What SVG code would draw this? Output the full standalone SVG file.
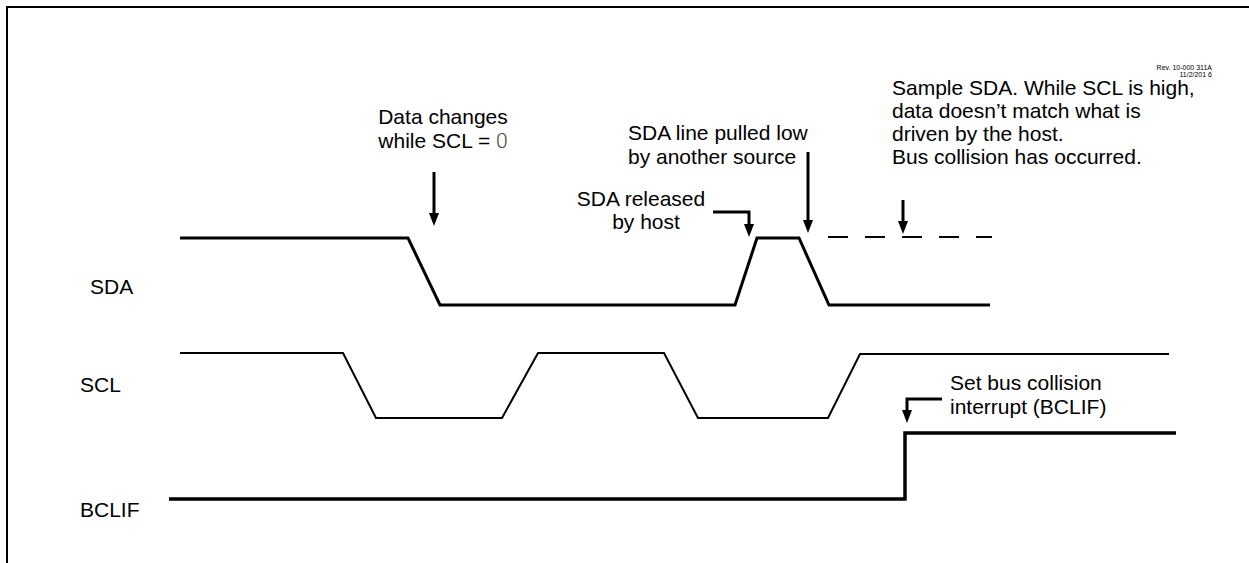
<svg xmlns="http://www.w3.org/2000/svg" width="1249" height="563" viewBox="0 0 1249 563">
<defs>
<marker id="ah" viewBox="0 0 13 10" refX="1" refY="5" markerWidth="13" markerHeight="10" markerUnits="userSpaceOnUse" orient="auto">
<path d="M0,0 L13,5 L0,10 Z" fill="#000"/>
</marker>
<style>
.t{font-family:"Liberation Sans",Arial,sans-serif;font-size:21px;fill:#000}
.sig{fill:none;stroke:#000;stroke-linejoin:miter}
.sda{stroke-width:3}
.scl{stroke-width:2}
.bcl{stroke-width:3.5}
.arr{fill:none;stroke:#000;stroke-width:3}
.rev{font-family:"Liberation Sans",Arial,sans-serif;font-size:7px;fill:#000}
</style>
</defs>
<rect width="1249" height="563" fill="#fff"/>
<path d="M7,563 V7 H1249" fill="none" stroke="#000" stroke-width="2"/>

<g id="rev">
<text class="rev" x="1212" y="70" text-anchor="end">Rev. 10-000 311A</text>
<text class="rev" x="1212" y="77" text-anchor="end">11/2/201 6</text>
</g>

<g id="sda">
<text class="t" x="90" y="294">SDA</text>
<polyline class="sig sda" points="180,238 408,238 440,305 735,305 757,238 799,238 829,305 990,305"/>
<line x1="828" y1="237" x2="992" y2="237" stroke="#000" stroke-width="2" stroke-dasharray="20 17"/>
</g>

<g id="scl">
<text class="t" x="80" y="392">SCL</text>
<polyline class="sig scl" points="180,353 343,353 376,418 502,418 538,353 664,353 698,418 828,418 860,354 1169,354"/>
</g>

<g id="bclif">
<text class="t" x="80" y="517">BCLIF</text>
<polyline class="sig bcl" points="169,499 905,499 905,433 1176,433"/>
</g>

<g id="label-data-changes">
<text class="t" x="443" y="124" text-anchor="middle">Data changes</text>
<text class="t" x="443" y="148" text-anchor="middle">while SCL = <tspan font-family="Roboto" font-weight="300" fill="#444">0</tspan></text>
</g>

<g id="label-pulled-low">
<text class="t" x="628" y="140">SDA line pulled low</text>
<text class="t" x="628" y="164">by another source</text>
</g>

<g id="label-released">
<text class="t" x="641" y="206" text-anchor="middle">SDA released</text>
<text class="t" x="646" y="229" text-anchor="middle">by host</text>
</g>

<g id="label-sample">
<text class="t" x="892" y="95">Sample SDA. While SCL is high,</text>
<text class="t" x="892" y="118">data doesn’t match what is</text>
<text class="t" x="892" y="141">driven by the host.</text>
<text class="t" x="892" y="164">Bus collision has occurred.</text>
</g>

<g id="label-bclif">
<text class="t" x="950" y="390">Set bus collision</text>
<text class="t" x="950" y="414">interrupt (BCLIF)</text>
</g>

<g id="connectors">
<path class="arr" d="M434,172 V214" marker-end="url(#ah)"/>
<path class="arr" d="M808,152 V221" marker-end="url(#ah)"/>
<path class="arr" d="M713,212 H749 V225" marker-end="url(#ah)"/>
<path class="arr" d="M903,200 V222" marker-end="url(#ah)"/>
<path class="arr" d="M942,399 H907 V411" marker-end="url(#ah)"/>
</g>
</svg>
